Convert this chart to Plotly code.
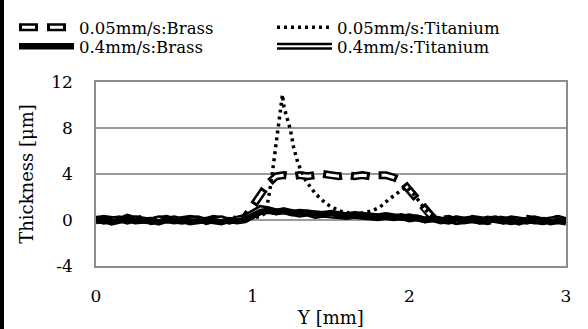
import plotly.graph_objects as go

# ---------------- data ----------------
y_mm = [0.00, 0.05, 0.10, 0.15, 0.20, 0.25, 0.30, 0.35, 0.40, 0.45,
        0.50, 0.55, 0.60, 0.65, 0.70, 0.75, 0.80, 0.85, 0.90, 0.95,
        1.00, 1.05, 1.10, 1.15, 1.20, 1.25, 1.30, 1.35, 1.40, 1.45,
        1.50, 1.55, 1.60, 1.65, 1.70, 1.75, 1.80, 1.85, 1.90, 1.95,
        2.00, 2.05, 2.10, 2.15, 2.20, 2.25, 2.30, 2.35, 2.40, 2.45,
        2.50, 2.55, 2.60, 2.65, 2.70, 2.75, 2.80, 2.85, 2.90, 2.95, 3.00]

brass_04 = [-0.1, 0.0, -0.2, 0.0, 0.1, -0.1, -0.1, 0.0, -0.2, 0.0,
            -0.1, 0.0, -0.2, -0.1, 0.0, -0.1, -0.2, 0.0, -0.1, 0.0,
            0.4, 0.7, 0.8, 0.7, 0.8, 0.6, 0.7, 0.6, 0.6, 0.5,
            0.6, 0.5, 0.4, 0.5, 0.4, 0.4, 0.3, 0.4, 0.3, 0.2,
            0.3, 0.1, 0.0, 0.1, -0.1, 0.0, 0.1, -0.1, 0.0, -0.1,
            0.1, 0.0, -0.1, 0.0, -0.2, 0.0, -0.1, 0.0, -0.2, -0.1, -0.2]

titanium_04 = [0.1, -0.1, 0.0, 0.1, -0.1, 0.1, 0.0, -0.1, 0.1, 0.0,
               0.1, -0.1, 0.0, 0.1, -0.1, 0.0, 0.1, -0.1, 0.1, 0.2,
               0.6, 1.0, 0.9, 0.7, 0.8, 0.6, 0.5, 0.6, 0.4, 0.5,
               0.4, 0.4, 0.3, 0.4, 0.3, 0.3, 0.2, 0.3, 0.2, 0.3,
               0.1, 0.2, 0.0, 0.1, 0.0, -0.1, 0.1, 0.0, 0.1, -0.1,
               0.0, 0.1, -0.1, 0.1, 0.0, -0.1, 0.1, -0.1, 0.0, 0.1, -0.1]

brass_005 = [0.0, 0.1, 0.0, -0.1, 0.2, 0.0, 0.1, -0.1, 0.0, 0.1,
             -0.1, 0.0, 0.1, 0.0, -0.1, 0.1, 0.0, 0.1, 0.0, 0.2,
             1.2, 2.3, 3.2, 3.8, 3.9, 3.8, 3.9, 3.8, 3.9, 4.0,
             3.9, 3.8, 3.9, 3.8, 3.9, 3.8, 3.9, 3.9, 3.7, 3.4,
             2.6, 1.8, 0.9, 0.2, 0.0, 0.1, -0.1, 0.0, 0.1, 0.0,
             -0.1, 0.1, 0.0, -0.1, 0.0, 0.1, 0.0, -0.1, 0.0, 0.1, -0.1]

y_mm_ti005 = [0.0, 0.1, 0.2, 0.3, 0.4, 0.5, 0.6, 0.7, 0.8, 0.9, 1.0,
              1.05, 1.08, 1.10, 1.12, 1.14, 1.16, 1.17, 1.18, 1.19, 1.20,
              1.22, 1.24, 1.26, 1.29, 1.34, 1.40, 1.47, 1.55, 1.62, 1.70,
              1.76, 1.81, 1.87, 1.94, 1.98, 2.03, 2.08, 2.12, 2.20, 2.30,
              2.40, 2.50, 2.60, 2.70, 2.80, 2.90, 3.00]
titanium_005 = [0.0, -0.1, 0.1, 0.0, -0.1, 0.1, 0.0, -0.1, 0.1, 0.0, 0.2,
                0.3, 0.6, 1.8, 3.5, 5.5, 7.6, 9.0, 10.0, 10.9, 9.8,
                8.8, 7.9, 6.4, 4.9, 3.4, 2.3, 1.4, 0.8, 0.6, 0.6,
                0.8, 1.1, 1.8, 2.5, 2.9, 2.2, 1.3, 0.6, 0.1, 0.0,
                -0.1, 0.1, 0.0, -0.1, 0.0, 0.1, 0.0]

names = ["0.05mm/s:Brass", "0.05mm/s:Titanium", "0.4mm/s:Brass", "0.4mm/s:Titanium"]
x_ticks = [0, 1, 2, 3]
x_ticktext = ["0", "1", "2", "3"]
y_ticks = [-4, 0, 4, 8, 12]
y_ticktext = ["-4", "0", "4", "8", "12"]

FONT = "DejaVu Serif"
PLOT_W = 470
PLOT_H = 184
LEG_SIZE = 16.5

fig = go.Figure()

# 0.05mm/s Brass : hollow capsule dashes (black outline + white core)
fig.add_trace(go.Scatter(x=y_mm, y=brass_005, mode="lines", name=names[0],
                         line=dict(color="black", width=8, dash="19px,9px"),
                         legend="legend", legendrank=1))
fig.add_trace(go.Scatter(x=y_mm, y=brass_005, mode="lines", name=names[0],
                         line=dict(color="white", width=3, dash="0px,3px,13px,12px"),
                         legend="legend3", legendrank=1))
# 0.05mm/s Titanium : dotted
fig.add_trace(go.Scatter(x=y_mm_ti005, y=titanium_005, mode="lines", name=names[1],
                         line=dict(color="black", width=3.5, dash="3px,4px"),
                         legend="legend", legendrank=2))
# 0.4mm/s Titanium : hollow solid line
fig.add_trace(go.Scatter(x=y_mm, y=titanium_04, mode="lines", name=names[3],
                         line=dict(color="black", width=7),
                         legend="legend2", legendrank=4))
fig.add_trace(go.Scatter(x=y_mm, y=titanium_04, mode="lines", name=names[3],
                         line=dict(color="white", width=2),
                         legend="legend4", legendrank=4))
# 0.4mm/s Brass : solid
fig.add_trace(go.Scatter(x=y_mm, y=brass_04, mode="lines", name=names[2],
                         line=dict(color="black", width=6.5),
                         legend="legend2", legendrank=3))

leg_common = dict(orientation="h", xanchor="left", yanchor="top",
                  bgcolor="rgba(0,0,0,0)", itemwidth=55, entrywidth=188,
                  traceorder="normal", itemclick=False, itemdoubleclick=False)
lx = -82 / PLOT_W
ly1 = 1 + (82 - 10) / PLOT_H
ly2 = 1 + (82 - 29) / PLOT_H
step = 258 / PLOT_W
vis = dict(family=FONT, size=LEG_SIZE, color="black")
hid = dict(family=FONT, size=LEG_SIZE, color="rgba(0,0,0,0)")
fig.update_layout(
    legend=dict(x=lx, y=ly1, font=vis, **leg_common),
    legend2=dict(x=lx, y=ly2, font=vis, **leg_common),
    legend3=dict(x=lx, y=ly1, font=hid, **leg_common),
    legend4=dict(x=lx + step, y=ly2, font=hid, **leg_common),
)

fig.update_layout(
    width=588, height=329,
    margin=dict(l=96, r=22, t=82, b=63, autoexpand=False),
    paper_bgcolor="white", plot_bgcolor="white",
    font=dict(family=FONT, size=16, color="black"),
    xaxis=dict(range=[0, 3], tickvals=x_ticks, ticktext=x_ticktext,
               showgrid=False, zeroline=False, showline=True, mirror=True,
               linecolor="#8c8c8c", linewidth=1.5, ticks="",
               ticklabelstandoff=14,
               tickfont=dict(family=FONT, size=17),
               title=dict(text="Y [mm]", font=dict(family=FONT, size=18), standoff=6)),
    yaxis=dict(range=[-4, 12], tickvals=y_ticks, ticktext=y_ticktext,
               showgrid=True, gridcolor="#9a9a9a", gridwidth=1.5, zeroline=False,
               showline=True, mirror=True, linecolor="#8c8c8c", linewidth=1.5, ticks="",
               ticklabelstandoff=18,
               tickfont=dict(family=FONT, size=17),
               title=dict(text="Thickness [μm]", font=dict(family=FONT, size=18), standoff=13)),
    shapes=[dict(type="rect", xref="paper", yref="paper",
                 x0=-96 / PLOT_W, x1=-92 / PLOT_W, y0=-63 / PLOT_H, y1=1 + 82 / PLOT_H,
                 fillcolor="black", line=dict(width=0), layer="above")],
)

fig.write_html("out.html")
